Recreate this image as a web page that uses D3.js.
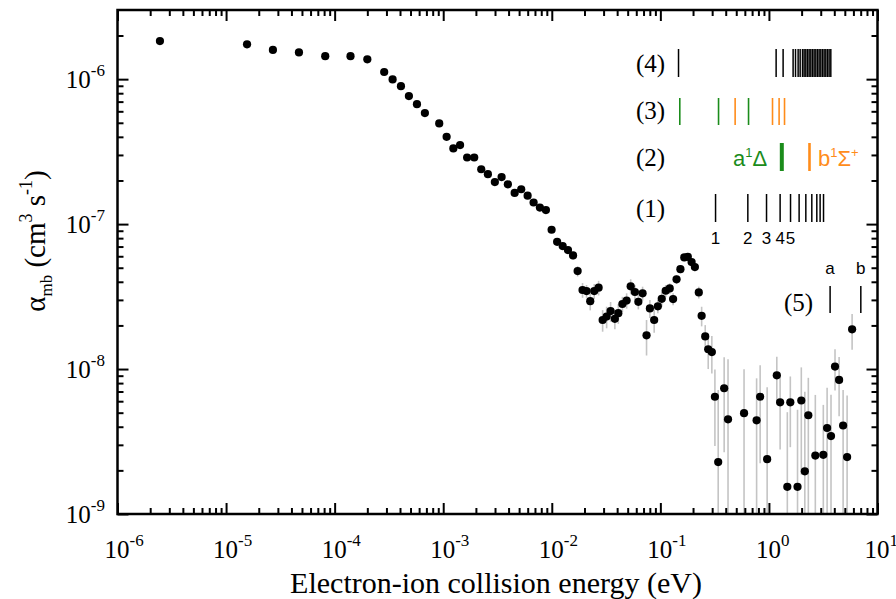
<!DOCTYPE html>
<html>
<head>
<meta charset="utf-8">
<script src="https://cdn.jsdelivr.net/npm/d3@7"></script>
<style>
  body { margin: 0; background: #fff; }
  svg { display: block; }
</style>
</head>
<body>
<svg id="chart" width="896" height="599"></svg>
<script>
// Collision energy (eV) of each measured point
const energy = [
  2.46e-6, 1.56e-5, 2.70e-5, 4.69e-5, 8.19e-5, 1.40e-4, 2.00e-4, 2.86e-4, 3.42e-4, 4.08e-4,
  4.83e-4, 5.73e-4, 6.78e-4, 9.19e-4, 1.075e-3, 1.24e-3, 1.43e-3, 1.66e-3, 1.93e-3, 2.24e-3,
  2.58e-3, 2.99e-3, 3.45e-3, 3.94e-3, 4.55e-3, 5.23e-3, 5.99e-3, 6.80e-3, 7.77e-3, 8.83e-3,
  9.96e-3, 1.12e-2, 1.26e-2, 1.41e-2, 1.57e-2, 1.73e-2, 1.92e-2, 2.09e-2, 2.26e-2, 2.46e-2,
  2.70e-2, 2.94e-2, 3.20e-2, 3.48e-2, 3.81e-2, 4.10e-2, 4.47e-2, 4.89e-2, 5.33e-2, 5.83e-2,
  6.27e-2, 6.86e-2, 7.46e-2, 8.01e-2, 8.77e-2, 9.48e-2, 0.103, 0.112, 0.122, 0.131,
  0.141, 0.153, 0.166, 0.179, 0.194, 0.208, 0.226, 0.240, 0.259, 0.276,
  0.298, 0.318, 0.341, 0.387, 0.420, 0.590, 0.770, 0.830, 0.963, 1.182,
  1.268, 1.477, 1.574, 1.834, 1.987, 2.141, 2.306, 2.675, 3.169, 3.435,
  3.731, 4.061, 4.430, 4.822, 5.249, 5.836
];

// Merged-beam rate coefficient (cm^3 s^-1)
const alphaMb = [
  1.83e-6, 1.74e-6, 1.59e-6, 1.53e-6, 1.44e-6, 1.44e-6, 1.37e-6, 1.12e-6, 9.95e-7, 8.95e-7,
  7.64e-7, 6.72e-7, 5.83e-7, 4.95e-7, 4.00e-7, 3.33e-7, 3.51e-7, 2.88e-7, 2.88e-7, 2.39e-7,
  2.21e-7, 1.95e-7, 2.11e-7, 1.88e-7, 1.64e-7, 1.74e-7, 1.57e-7, 1.41e-7, 1.30e-7, 1.25e-7,
  9.14e-8, 7.55e-8, 7.05e-8, 6.62e-8, 6.08e-8, 4.74e-8, 3.51e-8, 3.45e-8, 2.94e-8, 3.45e-8,
  3.64e-8, 2.18e-8, 2.30e-8, 2.51e-8, 2.22e-8, 2.43e-8, 2.81e-8, 2.97e-8, 3.72e-8, 3.40e-8,
  2.91e-8, 3.33e-8, 1.71e-8, 2.62e-8, 2.18e-8, 2.71e-8, 3.05e-8, 3.47e-8, 3.60e-8, 3.04e-8,
  4.16e-8, 4.89e-8, 5.89e-8, 5.95e-8, 5.47e-8, 5.05e-8, 3.38e-8, 2.33e-8, 1.68e-8, 1.37e-8,
  1.31e-8, 6.44e-9, 2.28e-9, 7.37e-9, 4.50e-9, 4.96e-9, 4.43e-9, 6.44e-9, 2.39e-9, 9.05e-9,
  5.89e-9, 1.54e-9, 5.89e-9, 1.54e-9, 6.07e-9, 1.97e-9, 4.80e-9, 2.53e-9, 2.56e-9, 3.92e-9,
  3.45e-9, 1.04e-8, 8.42e-9, 4.08e-9, 2.47e-9, 1.88e-8
];

// One-sigma uncertainty of each rate coefficient (cm^3 s^-1)
const alphaErr = [
  4e-8, 4e-8, 4e-8, 4e-8, 3e-8, 3e-8, 3e-8, 3e-8, 2e-8, 2e-8,
  2e-8, 1.5e-8, 1.5e-8, 1.2e-8, 1e-8, 9e-9, 9e-9, 8e-9, 8e-9, 7e-9,
  7e-9, 6e-9, 6e-9, 6e-9, 5e-9, 5e-9, 5e-9, 5e-9, 5e-9, 5e-9,
  4e-9, 4e-9, 4e-9, 4e-9, 4e-9, 3.9e-9, 4.1e-9, 3.5e-9, 4.0e-9, 4.1e-9,
  4.2e-9, 3.7e-9, 3.9e-9, 3.9e-9, 3.4e-9, 3.8e-9, 3.4e-9, 3.6e-9, 4.4e-9, 4.0e-9,
  3.3e-9, 3.7e-9, 4.7e-9, 3.7e-9, 4.0e-9, 2.8e-9, 3.6e-9, 3.3e-9, 3.0e-9, 2.9e-9,
  2.9e-9, 3.2e-9, 3.5e-9, 3.5e-9, 3.4e-9, 3.3e-9, 3.1e-9, 3.6e-9, 3.3e-9, 3.7e-9,
  3.8e-9, 3.5e-9, 4.9e-9, 4.7e-9, 7.2e-9, 5.0e-9, 4.2e-9, 4.2e-9, 5.1e-9, 3.1e-9,
  3.1e-9, 3.5e-9, 3.0e-9, 3.7e-9, 4.2e-9, 5.0e-9, 3.9e-9, 4.1e-9, 3.1e-9, 3.5e-9,
  3.2e-9, 3.3e-9, 3.7e-9, 3.1e-9, 4.1e-9, 5.2e-9
];

// Axis decades
const xMajor = [1e-6, 1e-5, 1e-4, 1e-3, 1e-2, 1e-1, 1e0, 1e1];
const xExp = ["-6", "-5", "-4", "-3", "-2", "-1", "0", "1"];
const yMajor = [1e-9, 1e-8, 1e-7, 1e-6];
const yExp = ["-9", "-8", "-7", "-6"];

// Level markers (energies in eV) for the annotation rows
const row4Levels = [0.147, 1.165, 1.351, 1.670, 1.757, 1.858, 1.939, 2.039, 2.109, 2.187, 2.267,
  2.346, 2.432, 2.521, 2.608, 2.704, 2.803, 2.900, 3.006, 3.116, 3.224, 3.342, 3.464, 3.584, 3.715];
const row3Green = [0.151, 0.3435, 0.649];
const row3Orange = [0.4884, 1.079, 1.241, 1.392];
const row2Green = [1.314];
const row2Orange = [2.364];
const row1Levels = [0.3224, 0.6393, 0.9504, 1.268, 1.581, 1.897, 2.187, 2.483, 2.761, 2.961, 3.183];
const row1Names = ["1", "2", "3", "4", "5"];
const row5Levels = [3.66, 7.02];
const row5Names = ["a", "b"];

const GREEN = "#1b8c1b";
const ORANGE = "#ff8c1a";
const SERIF = "'Liberation Serif', 'Times New Roman', serif";
const SANS = "'Liberation Sans', Arial, sans-serif";

const svg = d3.select("#chart");
const plotL = 117.5, plotR = 877.5, plotT = 10, plotB = 514;

const x = d3.scaleLog().domain([1e-6, 10]).range([plotL, plotR]);
const y = d3.scaleLog().domain([1e-9, 3e-6]).range([plotB, plotT]);

function minors(lo, hi) {
  const out = [];
  for (let e = Math.floor(Math.log10(lo)); e < Math.ceil(Math.log10(hi)); e++) {
    for (let m = 2; m <= 9; m++) {
      const v = m * Math.pow(10, e);
      if (v > lo && v < hi) out.push(v);
    }
  }
  return out;
}
const xMinor = minors(1e-6, 10);
const yMinor = minors(1e-9, 3e-6);

// Error bars
const pts = energy.map((e, i) => ({ e, a: alphaMb[i], s: alphaErr[i] }));
svg.append("g")
  .selectAll("line")
  .data(pts)
  .join("line")
  .attr("x1", d => x(d.e)).attr("x2", d => x(d.e))
  .attr("y1", d => y(Math.max(d.a - d.s, 1e-9)))
  .attr("y2", d => y(d.a + d.s))
  .attr("stroke", "#c4c4c4")
  .attr("stroke-width", 1.6);

// Data points
svg.append("g")
  .selectAll("circle")
  .data(pts)
  .join("circle")
  .attr("cx", d => x(d.e))
  .attr("cy", d => y(d.a))
  .attr("r", 4.1)
  .attr("fill", "#000");

// Axes: ticks pointing inward on all four sides
function tickAxis(axisFn, scale, values, size, transform) {
  const g = svg.append("g").attr("transform", transform)
    .call(axisFn(scale).tickValues(values).tickSize(-size).tickFormat(""));
  g.select(".domain").remove();
  g.selectAll(".tick line").attr("stroke", "#000").attr("stroke-width", 2);
  return g;
}
tickAxis(d3.axisBottom, x, xMajor, 11, `translate(0,${plotB})`);
tickAxis(d3.axisBottom, x, xMinor, 6, `translate(0,${plotB})`);
tickAxis(d3.axisTop, x, xMajor, 11, `translate(0,${plotT})`);
tickAxis(d3.axisTop, x, xMinor, 6, `translate(0,${plotT})`);
tickAxis(d3.axisLeft, y, yMajor, 11, `translate(${plotL},0)`);
tickAxis(d3.axisLeft, y, yMinor, 6, `translate(${plotL},0)`);
tickAxis(d3.axisRight, y, yMajor, 11, `translate(${plotR},0)`);
tickAxis(d3.axisRight, y, yMinor, 6, `translate(${plotR},0)`);

svg.append("rect")
  .attr("x", plotL).attr("y", plotT)
  .attr("width", plotR - plotL).attr("height", plotB - plotT)
  .attr("fill", "none").attr("stroke", "#000").attr("stroke-width", 2.5);

// Tick labels as powers of ten; the mantissa "10" is centred on its tick
const xl = svg.append("g").attr("font-family", SERIF).attr("font-size", 25).attr("fill", "#000");
xMajor.forEach((v, i) => {
  const t = xl.append("text").attr("x", x(v) - 13).attr("y", 558);
  t.append("tspan").text("10");
  t.append("tspan").attr("dy", -12).attr("font-size", 17).text(xExp[i]);
});
const yl = svg.append("g").attr("font-family", SERIF).attr("font-size", 25).attr("fill", "#000");
yMajor.forEach((v, i) => {
  const t = yl.append("text").attr("x", 105).attr("y", y(v) + 9).attr("text-anchor", "end");
  t.append("tspan").text("10");
  t.append("tspan").attr("dy", -12).attr("font-size", 17).text(yExp[i]);
});

// Axis titles
svg.append("text")
  .attr("x", 496).attr("y", 593)
  .attr("text-anchor", "middle")
  .attr("font-family", SERIF).attr("font-size", 30)
  .text("Electron-ion collision energy (eV)");

const yt = svg.append("text")
  .attr("transform", "translate(45,241) rotate(-90)")
  .attr("text-anchor", "middle")
  .attr("font-family", SERIF).attr("font-size", 29);
yt.append("tspan").text("α");
yt.append("tspan").attr("dy", 7).attr("font-size", 17).text("mb");
yt.append("tspan").attr("dy", -7).text(" (cm");
yt.append("tspan").attr("dy", -13).attr("font-size", 18).text("3");
yt.append("tspan").attr("dy", 13).text(" s");
yt.append("tspan").attr("dy", -13).attr("font-size", 18).text("-1");
yt.append("tspan").attr("dy", 13).text(")");

// Annotation rows of level positions
const ann = svg.append("g");
function levelLines(vals, y1, y2, color, width) {
  ann.append("g").selectAll("line").data(vals).join("line")
    .attr("x1", d => x(d)).attr("x2", d => x(d))
    .attr("y1", y1).attr("y2", y2)
    .attr("stroke", color).attr("stroke-width", width);
}
levelLines(row4Levels, 49, 77, "#000", 1.5);
levelLines(row3Green, 98, 125, GREEN, 1.6);
levelLines(row3Orange, 98, 125, ORANGE, 1.6);
levelLines(row2Green, 143, 171, GREEN, 4);
levelLines(row2Orange, 143, 171, ORANGE, 2.6);
levelLines(row1Levels, 194, 222, "#000", 1.5);
levelLines(row5Levels, 286, 313, "#000", 1.5);

const rowLabels = [["(4)", 636, 72], ["(3)", 636, 119], ["(2)", 636, 166], ["(1)", 636, 217], ["(5)", 784, 311]];
ann.append("g").selectAll("text").data(rowLabels).join("text")
  .attr("x", d => d[1]).attr("y", d => d[2])
  .attr("font-family", SERIF).attr("font-size", 25)
  .text(d => d[0]);

ann.append("g").selectAll("text").data(row1Names).join("text")
  .attr("x", (d, i) => x(row1Levels[i])).attr("y", 244)
  .attr("text-anchor", "middle")
  .attr("font-family", SANS).attr("font-size", 17)
  .text(d => d);

ann.append("g").selectAll("text").data(row5Names).join("text")
  .attr("x", (d, i) => x(row5Levels[i])).attr("y", 274)
  .attr("text-anchor", "middle")
  .attr("font-family", SANS).attr("font-size", 17)
  .text(d => d);

const aLab = ann.append("text").attr("x", 733).attr("y", 166)
  .attr("font-family", SANS).attr("font-size", 22).attr("fill", GREEN);
aLab.append("tspan").text("a");
aLab.append("tspan").attr("dy", -9).attr("font-size", 13).text("1");
aLab.append("tspan").attr("dy", 9).text("Δ");

const bLab = ann.append("text").attr("x", 818).attr("y", 166)
  .attr("font-family", SANS).attr("font-size", 22).attr("fill", ORANGE);
bLab.append("tspan").text("b");
bLab.append("tspan").attr("dy", -9).attr("font-size", 13).text("1");
bLab.append("tspan").attr("dy", 9).text("Σ");
bLab.append("tspan").attr("dy", -9).attr("font-size", 13).text("+");
</script>
</body>
</html>
